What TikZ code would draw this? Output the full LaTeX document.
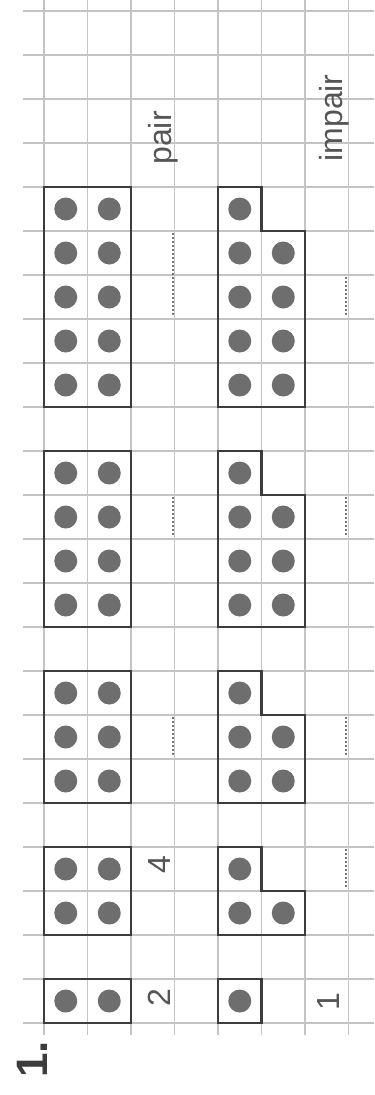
\documentclass[tikz,border=0pt]{standalone}
\usepackage{fontspec}
\setmainfont{Liberation Sans}
\definecolor{gridc}{HTML}{C4C4C4}
\definecolor{boxc}{HTML}{3C3C3C}
\definecolor{dotc}{HTML}{6E6E6E}
\definecolor{txtc}{HTML}{555555}
\begin{document}
\begin{tikzpicture}[x=43.5pt,y=-44pt,
  gridline/.style={draw=gridc,line width=1.1pt},
  boxline/.style={draw=boxc,line width=2.1pt,line join=miter},
  counter/.style={fill=dotc},
  blank/.style={draw=gridc!60!black,line width=1.8pt,dash pattern=on 1.5pt off 2.5pt},
  lbl/.style={rotate=90,anchor=base,text=txtc,font=\fontsize{32}{36}\selectfont,inner sep=0pt}]
\useasboundingbox (-1.0115,-0.25) rectangle (7.5862,24.636);
% grid
\foreach \i in {0,...,7} \draw[gridline] (\i,-0.25) -- (\i,23.27);
\foreach \j in {0,...,23} \draw[gridline] (-0.483,\j) -- (7.5862,\j);
% answer blanks (dotted)
\draw[blank] (2.965,5.05) -- (2.965,6.95);
\draw[blank] (2.965,11.05) -- (2.965,11.95);
\draw[blank] (2.965,16.05) -- (2.965,16.95);
\draw[blank] (6.94,6.05) -- (6.94,6.95);
\draw[blank] (6.94,11.05) -- (6.94,11.95);
\draw[blank] (6.94,16.05) -- (6.94,16.95);
\draw[blank] (6.94,19.05) -- (6.94,19.95);
% pair boxes
\foreach \a/\b in {22/23,19/21,15/18,10/14,4/9}{
  \draw[boxline] (0,\a) rectangle (2,\b);
  \pgfmathtruncatemacro{\bb}{\b-1}
  \foreach \r in {\a,...,\bb}{
    \fill[counter] (0.5,\r+0.5) circle[radius=11.5pt];
    \fill[counter] (1.5,\r+0.5) circle[radius=11.5pt];
  }
}
% impair: single
\draw[boxline] (4,22) rectangle (5,23);
\fill[counter] (4.5,22.5) circle[radius=11.5pt];
% impair L shapes
\foreach \a/\b in {19/21,15/18,10/14,4/9}{
  \draw[boxline] (4,\a) -- (5,\a) -- (5,\a+1) -- (6,\a+1) -- (6,\b) -- (4,\b) -- cycle;
  \fill[counter] (4.5,\a+0.5) circle[radius=11.5pt];
  \pgfmathtruncatemacro{\aa}{\a+1}
  \pgfmathtruncatemacro{\bb}{\b-1}
  \foreach \r in {\aa,...,\bb}{
    \fill[counter] (4.5,\r+0.5) circle[radius=11.5pt];
    \fill[counter] (5.5,\r+0.5) circle[radius=11.5pt];
  }
}
% labels
\node[lbl] (pair) at (2.92,2.886) {pair};
\node[lbl] (impair) at (6.87,2.43) {impair};
\node[lbl] (two) at (2.90,22.43) {2};
\node[lbl] (four) at (2.90,19.41) {4};
\node[lbl] (one) at (6.80,22.52) {1};
\node[rotate=90,anchor=base,text=boxc,inner sep=0pt,font=\fontsize{44}{50}\selectfont\bfseries] (num) at (0.07,23.83) {1.};
\end{tikzpicture}
\end{document}
